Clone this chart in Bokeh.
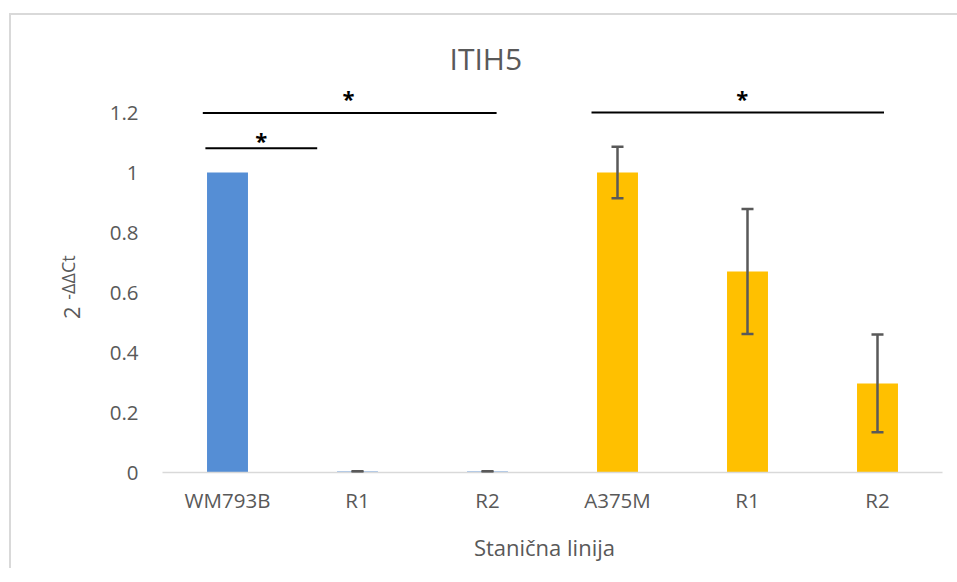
import math
from bokeh.plotting import figure
from bokeh.models import (Range1d, FixedTicker, ColumnDataSource, Whisker, TeeHead, Title,
                          LinearAxis, InlineStyleSheet)
from bokeh.core.properties import value
from bokeh.embed import file_html
from bokeh.resources import INLINE

# ---- data ----
categories = ["WM793B", "R1", "R2", "A375M", "R1", "R2"]
groups = ["WM793B", "WM793B", "WM793B", "A375M", "A375M", "A375M"]
expression = [1.0, 0.003, 0.003, 1.0, 0.67, 0.297]
errors = [0.0, 0.001, 0.001, 0.086, 0.208, 0.163]
y_ticks = [0, 0.2, 0.4, 0.6, 0.8, 1.0, 1.2]
y_tick_labels = ["0", "0.2", "0.4", "0.6", "0.8", "1", "1.2"]

# significance annotations (x in category-index units, y in data units)
bracket_start = [-0.19, -0.17, 2.80]
bracket_end = [2.07, 0.69, 5.05]
bracket_level = [1.198, 1.081, 1.2]
star_x = [0.93, 0.26, 3.96]
star_y = [1.25, 1.11, 1.25]

# texts
title_text = "ITIH5"
x_title = "Stanična linija"
y_title_base = "2"
y_title_sup = "-ΔΔCt"

# text anchor positions (layout only)
X_TITLE_POS = 2.438
Y_BASE_POS = 0.533
Y_SUP_POS = 0.650

group_colors = {"WM793B": "#558ED5", "A375M": "#FFC000"}
FONT = "Open Sans"
GREY = "#595959"

idx = list(range(len(categories)))
src = ColumnDataSource(dict(
    x=idx,
    top=expression,
    color=[group_colors[g] for g in groups],
))

p = figure(
    width=948, height=555,
    x_range=Range1d(-0.5, len(categories) - 0.5),
    y_range=Range1d(0, 1.3),
    output_backend="svg", toolbar_location=None, title=None,
    min_border_left=151, min_border_right=17, min_border_top=67, min_border_bottom=98,
)
p.margin = (13, 0, 0, 9)
p.stylesheets = [InlineStyleSheet(css=":host { border-top: 2px solid #d9d9d9; border-left: 2px solid #d9d9d9; }")]
p.outline_line_color = None
p.xgrid.visible = False
p.ygrid.visible = False

p.vbar(x="x", top="top", width=0.315, color="color", source=src, line_color=None)

# error bars
ex = [i for i in idx if errors[i] > 0]
esrc = ColumnDataSource(dict(
    x=ex,
    upper=[expression[i] + errors[i] for i in ex],
    lower=[expression[i] - errors[i] for i in ex],
))
wh = Whisker(base="x", upper="upper", lower="lower", source=esrc, dimension="height",
             line_color=GREY, line_width=2.5, level="overlay",
             upper_head=TeeHead(size=12, line_color=GREY, line_width=2.5),
             lower_head=TeeHead(size=12, line_color=GREY, line_width=2.5))
p.add_layout(wh)

# significance brackets
p.segment(x0=bracket_start, y0=bracket_level, x1=bracket_end, y1=bracket_level,
          line_color="black", line_width=2)
p.text(x=star_x, y=star_y, text=["*"] * len(star_x), text_font=value(FONT),
       text_font_size="22px", text_font_style="bold", text_color="black",
       text_align="center", text_baseline="alphabetic", y_offset=0)


def plain_axis(ax):
    ax.axis_line_color = None
    ax.major_tick_line_color = None
    ax.minor_tick_line_color = None
    ax.major_tick_in = 0
    ax.major_tick_out = 0
    ax.minor_tick_in = 0
    ax.minor_tick_out = 0
    ax.major_label_text_font = FONT
    ax.major_label_text_color = GREY


# x axis
xa = p.xaxis[0]
plain_axis(xa)
xa.ticker = FixedTicker(ticks=idx)
xa.major_label_overrides = {i: c for i, c in zip(idx, categories)}
xa.axis_line_color = "#D9D9D9"
xa.axis_line_width = 1.5
xa.major_label_text_font_size = "20.5px"
xa.major_label_standoff = 13

# x axis title (a single-tick axis so it sits where the original one sits)
xt = LinearAxis(ticker=FixedTicker(ticks=[X_TITLE_POS]),
                major_label_overrides={X_TITLE_POS: x_title})
plain_axis(xt)
xt.major_label_text_font_size = "22px"
xt.major_label_standoff = 15
p.add_layout(xt, "below")

# y axis
ya = p.yaxis[0]
plain_axis(ya)
ya.ticker = FixedTicker(ticks=y_ticks)
ya.major_label_overrides = {t: l for t, l in zip(y_ticks, y_tick_labels)}
ya.major_label_text_font_size = "20.5px"
ya.major_label_standoff = 24

# y axis title: "2" with raised "-ΔΔCt"
yb = LinearAxis(ticker=FixedTicker(ticks=[Y_BASE_POS]),
                major_label_overrides={Y_BASE_POS: y_title_base},
                major_label_orientation="vertical")
plain_axis(yb)
yb.major_label_text_font_size = "22px"
yb.major_label_standoff = 26
p.add_layout(yb, "left")

ys = LinearAxis(ticker=FixedTicker(ticks=[Y_SUP_POS]),
                major_label_overrides={Y_SUP_POS: y_title_sup},
                major_label_orientation="vertical")
plain_axis(ys)
ys.major_label_text_font_size = "18px"
ys.major_label_standoff = -18
p.add_layout(ys, "left")

# chart title
p.add_layout(Title(text=title_text, align="left", offset=287, vertical_align="bottom",
                   standoff=8, text_font=FONT, text_font_size="30px",
                   text_font_style="normal", text_color=GREY), "above")

open("out.html", "w").write(file_html(p, INLINE))
